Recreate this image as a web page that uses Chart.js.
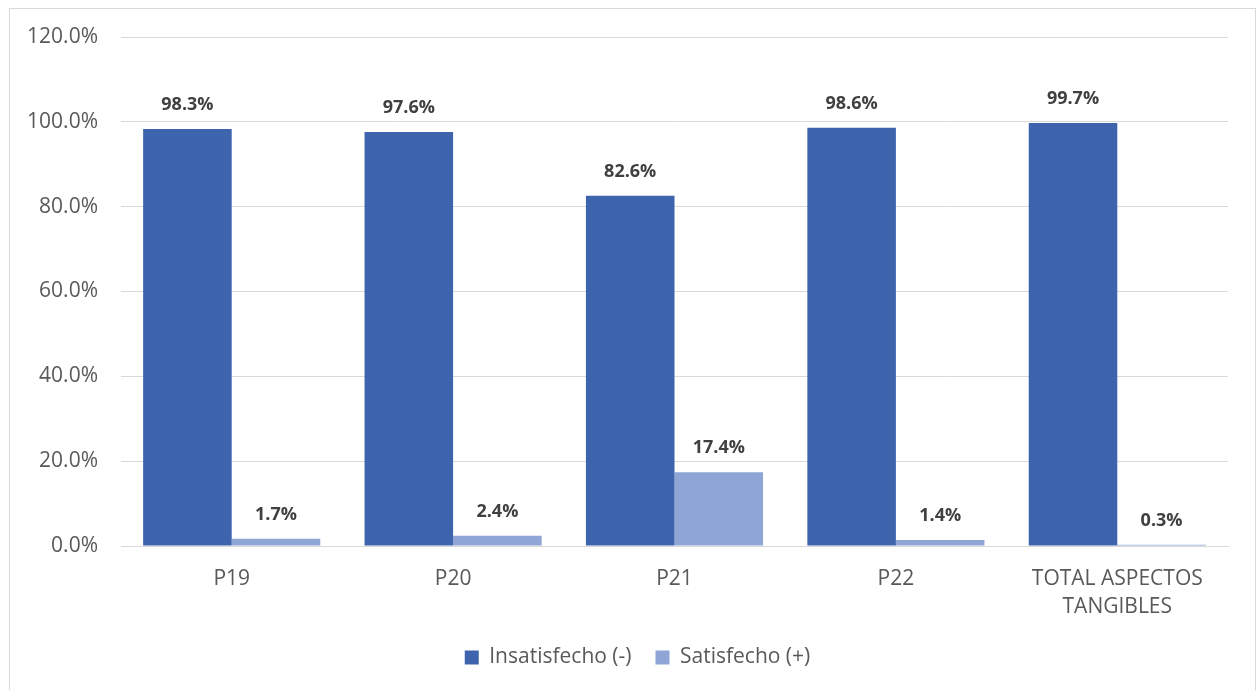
<!DOCTYPE html>
<html>
<head>
<meta charset="utf-8">
<script src="https://cdn.jsdelivr.net/npm/chart.js@4.4.1/dist/chart.umd.min.js"></script>
<style>
  html, body { margin: 0; padding: 0; background: #ffffff; }
  #wrap { position: relative; width: 1260px; height: 690px; overflow: hidden; }
  #frame { position: absolute; left: 9px; top: 8px; width: 1247px; height: 700px; border: 1px solid #d9d9d9; box-sizing: border-box; pointer-events: none; }
  canvas { position: absolute; left: 0; top: 0; }
</style>
</head>
<body>
<div id="wrap">
  <canvas id="chart" width="1260" height="690"></canvas>
  <div id="frame"></div>
</div>
<script>
// Survey results: share of dissatisfied vs satisfied answers per question
const categories = ['P19', 'P20', 'P21', 'P22', ['TOTAL ASPECTOS', 'TANGIBLES']];
const insatisfecho = [98.3, 97.6, 82.6, 98.6, 99.7];
const satisfecho = [1.7, 2.4, 17.4, 1.4, 0.3];
const yTicks = [0, 20, 40, 60, 80, 100, 120];

const FONT = "'Open Sans', 'DejaVu Sans', sans-serif";

// Writes each bar's value above it
const valueLabels = {
  id: 'valueLabels',
  afterDatasetsDraw(chart) {
    const ctx = chart.ctx;
    ctx.save();
    ctx.font = 'bold 18px ' + FONT;
    ctx.fillStyle = '#404040';
    ctx.textAlign = 'center';
    ctx.textBaseline = 'middle';
    chart.data.datasets.forEach((ds, i) => {
      chart.getDatasetMeta(i).data.forEach((bar, j) => {
        ctx.fillText(ds.data[j].toFixed(1) + '%', bar.x, bar.y - 24);
      });
    });
    ctx.restore();
  }
};

// Centres the legend on the whole frame rather than on the padded area
const legendCentre = {
  id: 'legendCentre',
  afterLayout(chart) {
    const lg = chart.legend;
    if (lg) { lg.left += 19; lg.right += 19; }
  }
};

new Chart(document.getElementById('chart'), {
  type: 'bar',
  data: {
    labels: categories,
    datasets: [
      { label: 'Insatisfecho (-)', data: insatisfecho, backgroundColor: '#3D64AD' },
      { label: 'Satisfecho (+)', data: satisfecho, backgroundColor: '#8FA5D5' }
    ]
  },
  options: {
    responsive: false,
    animation: false,
    devicePixelRatio: 1,
    layout: { padding: { top: 37, right: 32, bottom: 12, left: 9 } },
    datasets: { bar: { categoryPercentage: 0.8, barPercentage: 1.0 } },
    plugins: {
      tooltip: { enabled: false },
      legend: {
        position: 'bottom',
        labels: {
          font: { family: FONT, size: 21 },
          color: '#595959',
          boxWidth: 14,
          boxHeight: 14,
          padding: 24
        }
      }
    },
    scales: {
      x: {
        grid: { display: false, drawTicks: false },
        border: { display: true, color: '#d9d9d9' },
        ticks: {
          font: { family: FONT, size: 21, lineHeight: 1.33 },
          color: '#595959',
          padding: 19,
          maxRotation: 0
        },
        afterFit(scale) { scale.height = 77; }
      },
      y: {
        min: 0,
        max: 120,
        grid: { color: '#d9d9d9', drawTicks: false },
        border: { display: false },
        afterBuildTicks(scale) { scale.ticks = yTicks.map(v => ({ value: v })); },
        ticks: {
          font: { family: FONT, size: 21 },
          color: '#595959',
          padding: 23,
          callback: v => v.toFixed(1) + '%'
        },
        afterFit(scale) { scale.width = 112; }
      }
    }
  },
  plugins: [valueLabels, legendCentre]
});
</script>
</body>
</html>
